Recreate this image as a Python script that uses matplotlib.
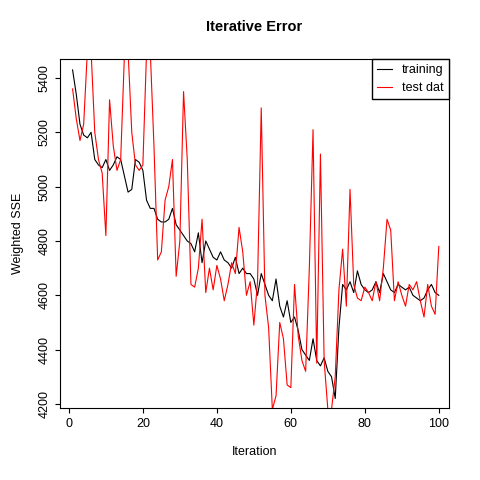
import matplotlib
matplotlib.use("Agg")
import matplotlib.pyplot as plt

plt.rcParams["font.family"] = ["Liberation Sans", "DejaVu Sans"]

iteration = list(range(1, 101))

training = [5430, 5340, 5230, 5190, 5180, 5200, 5100, 5080, 5070, 5100,
            5060, 5080, 5110, 5100, 5040, 4980, 4990, 5100, 5090, 5060,
            4950, 4920, 4920, 4880, 4870, 4870, 4880, 4920, 4860, 4840,
            4820, 4800, 4790, 4760, 4830, 4720, 4800, 4770, 4740, 4730,
            4760, 4730, 4720, 4700, 4740, 4680, 4700, 4680, 4680, 4660,
            4600, 4680, 4640, 4600, 4580, 4660, 4560, 4520, 4580, 4500,
            4520, 4470, 4400, 4380, 4360, 4440, 4360, 4340, 4370, 4320,
            4300, 4220, 4480, 4640, 4620, 4650, 4610, 4690, 4640, 4620,
            4610, 4620, 4650, 4610, 4680, 4650, 4620, 4610, 4640, 4630,
            4620, 4630, 4600, 4590, 4580, 4590, 4620, 4640, 4610, 4600]

test = [5360, 5250, 5170, 5230, 5500, 5500, 5200, 5100, 5050, 4820,
        5320, 5150, 5060, 5100, 5480, 5500, 5200, 5080, 5060, 5080,
        5500, 5500, 5150, 4730, 4760, 4950, 5000, 5100, 4670, 4800,
        5350, 5100, 4640, 4630, 4700, 4880, 4610, 4700, 4620, 4710,
        4660, 4580, 4640, 4720, 4680, 4850, 4760, 4600, 4650, 4490,
        4650, 5290, 4600, 4480, 4180, 4230, 4500, 4440, 4270, 4260,
        4640, 4450, 4360, 4320, 4700, 5210, 4350, 5120, 4360, 4180,
        4180, 4300, 4620, 4770, 4560, 4990, 4640, 4590, 4580, 4630,
        4610, 4580, 4650, 4580, 4700, 4880, 4840, 4580, 4650, 4600,
        4560, 4640, 4620, 4650, 4580, 4520, 4640, 4560, 4530, 4780]

plt.figure(figsize=(4.8, 4.8), dpi=100)
plt.plot(iteration, training, color="black", linewidth=0.8, label="training")
plt.plot(iteration, test, color="red", linewidth=0.8, label="test dat")
plt.xlim(-2.4, 102.7)
plt.ylim(4185, 5470)
plt.xticks([0, 20, 40, 60, 80, 100], fontsize=9)
plt.yticks([4200, 4400, 4600, 4800, 5000, 5200, 5400], fontsize=9, rotation=90, va="center")
plt.xlabel("Iteration", fontsize=9, labelpad=12)
plt.ylabel("Weighted SSE", fontsize=9, labelpad=10)
plt.title("Iterative Error", fontsize=10.5, fontweight="bold", pad=20)
leg = plt.legend(loc="upper right", fontsize=9, fancybox=False, framealpha=1,
                 borderaxespad=0, handlelength=1.2)
leg.get_frame().set_edgecolor("black")
plt.subplots_adjust(left=0.125, right=0.935, top=0.877, bottom=0.15)
plt.savefig("out.png")
